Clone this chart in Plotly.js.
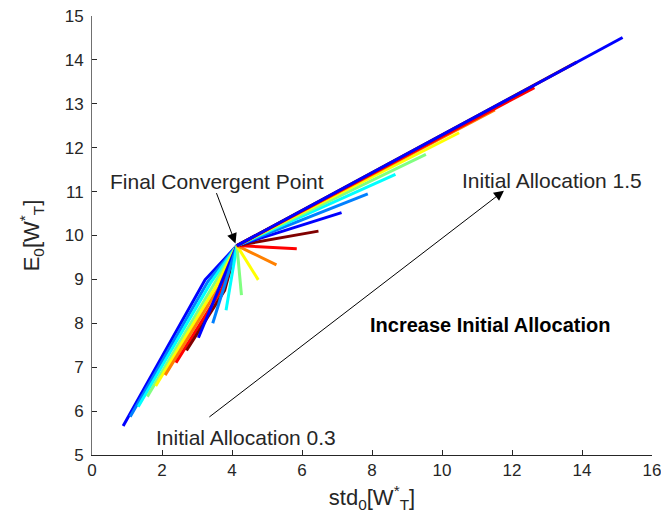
<!DOCTYPE html>
<html>
<head>
<meta charset="utf-8">
<script src="https://cdn.plot.ly/plotly-3.0.1.min.js"></script>
<style>html,body{margin:0;padding:0;background:#fff;}#chart{width:661px;height:525px;}</style>
</head>
<body>
<div id="chart"></div>
<script>
// Initial allocation of each trajectory
const allocations = [0.30,0.35,0.40,0.45,0.50,0.55,0.60,0.65,0.70,0.75,0.80,0.85,0.90,0.95,1.00,1.05,1.10,1.15,1.20,1.25,1.30,1.35,1.40,1.45,1.50];
// Starting point (std, mean) of each trajectory
const startStd  = [0.89,1.09,1.32,1.58,1.82,2.09,2.40,2.70,3.04,3.45,3.83,4.27,4.75,5.27,5.85,6.47,7.13,7.88,8.67,9.54,10.49,11.51,12.64,13.85,15.16];
const startMean = [5.66,5.87,6.10,6.33,6.57,6.82,7.10,7.38,7.67,8.00,8.30,8.64,8.99,9.33,9.70,10.10,10.52,10.95,11.39,11.85,12.34,12.86,13.37,13.95,14.51];
// Intermediate point of each trajectory (null = none)
const midStd  = [3.23,3.31,3.39,3.47,3.55,3.63,3.71,3.79,null,null,null,null,null,null,null,null,null,null,null,null,null,null,null,null,null];
const midMean = [8.99,8.95,8.92,8.88,8.85,8.82,8.78,8.75,null,null,null,null,null,null,null,null,null,null,null,null,null,null,null,null,null];
// Final convergent point
const finalStd = 4.14;
const finalMean = 9.77;
// jet(8) colour cycle
const jet8 = ['#0000ff','#0080ff','#00ffff','#80ff80','#ffff00','#ff8000','#ff0000','#800000'];

const traces = allocations.map((a, i) => {
  const xs = [startStd[i]], ys = [startMean[i]];
  if (midStd[i] !== null) { xs.push(midStd[i]); ys.push(midMean[i]); }
  xs.push(finalStd); ys.push(finalMean);
  return {
    type: 'scatter', mode: 'lines', x: xs, y: ys,
    name: 'Initial allocation ' + a,
    line: {color: jet8[i % 8], width: 3},
    hoverinfo: 'skip', showlegend: false
  };
});

const fnt = {family: 'Liberation Sans, Arial, sans-serif', color: '#262626'};

const layout = {
  width: 661, height: 525,
  margin: {l: 92, r: 9, t: 16, b: 70},
  paper_bgcolor: '#fff', plot_bgcolor: '#fff',
  showlegend: false,
  xaxis: {
    range: [0, 16], dtick: 2, tick0: 0,
    showgrid: false, zeroline: false,
    showline: true, linecolor: '#262626', linewidth: 1,
    ticks: 'inside', ticklen: 5, tickcolor: '#262626',
    ticklabeloverflow: 'allow',
    tickfont: Object.assign({size: 17}, fnt),
    title: {text: 'std<sub>0</sub>[W<sup>*</sup><sub>T</sub>]', font: Object.assign({size: 22}, fnt), standoff: 10}
  },
  yaxis: {
    range: [5, 15], dtick: 1, tick0: 5,
    showgrid: false, zeroline: false,
    showline: true, linecolor: '#707070', linewidth: 1,
    ticks: 'inside', ticklen: 5, tickcolor: '#262626',
    ticklabelstandoff: 4,
    ticklabeloverflow: 'allow',
    tickfont: Object.assign({size: 17}, fnt),
    title: {text: 'E<sub>0</sub>[W<sup>*</sup><sub>T</sub>]', font: Object.assign({size: 22}, fnt), standoff: 18}
  },
  annotations: [
    {x: 4.10, y: 9.82, ax: 3.54, ay: 11.0, xref: 'x', yref: 'y', axref: 'x', ayref: 'y',
     text: '', showarrow: true, arrowhead: 2, arrowsize: 2, arrowwidth: 1, arrowcolor: '#000', standoff: 0},
    {x: 11.77, y: 11.02, ax: 3.31, ay: 5.84, xref: 'x', yref: 'y', axref: 'x', ayref: 'y',
     text: '', showarrow: true, arrowhead: 2, arrowsize: 2, arrowwidth: 1, arrowcolor: '#000', standoff: 0},
    {x: 3.56, y: 11.24, xref: 'x', yref: 'y', text: 'Final Convergent Point', showarrow: false,
     font: Object.assign({size: 21}, fnt), xanchor: 'center', yanchor: 'middle'},
    {x: 13.13, y: 11.26, xref: 'x', yref: 'y', text: 'Initial Allocation 1.5', showarrow: false,
     font: Object.assign({size: 21}, fnt), xanchor: 'center', yanchor: 'middle'},
    {x: 4.41, y: 5.39, xref: 'x', yref: 'y', text: 'Initial Allocation 0.3', showarrow: false,
     font: Object.assign({size: 21}, fnt), xanchor: 'center', yanchor: 'middle'},
    {x: 11.37, y: 7.96, xref: 'x', yref: 'y', text: '<b>Increase Initial Allocation</b>', showarrow: false,
     font: {family: 'Liberation Sans, Arial, sans-serif', size: 20, color: '#000'}, xanchor: 'center', yanchor: 'middle'}
  ]
};

Plotly.newPlot('chart', traces, layout, {staticPlot: true, displayModeBar: false});
</script>
</body>
</html>
